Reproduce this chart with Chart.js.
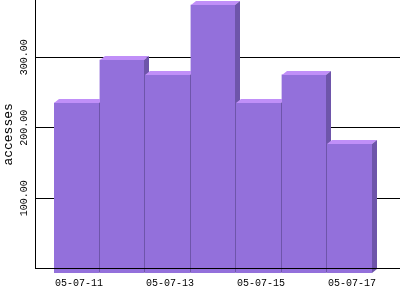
<!DOCTYPE html>
<html>
<head>
<meta charset="utf-8">
<script src="https://cdn.jsdelivr.net/npm/chart.js@4.4.0/dist/chart.umd.min.js"></script>
<style>
  html, body { margin: 0; padding: 0; background: #fff; }
</style>
</head>
<body>
<canvas id="accessChart" width="400" height="300"></canvas>
<script>
// data
const days = ['05-07-11', '05-07-12', '05-07-13', '05-07-14', '05-07-15', '05-07-16', '05-07-17'];
const accesses = [241, 302, 281, 380, 241, 281, 182];
const yTicks = [100, 200, 300];
const labelEvery = 2;

const FONT = 'Liberation Mono';
const FRONT = '#9370db', TOP = '#c08ff8', SIDE = '#6e55aa';
const DX = 5, DY = 4; // depth of the fake 3d

// draws each bar front/top/side in order so the next bar covers the previous side
const bars3d = {
  id: 'bars3d',
  beforeDatasetDraw(chart) {
    chart.ctx.save();
    chart.ctx.translate(-DX, DY);
  },
  afterDatasetDraw(chart, args) {
    const ctx = chart.ctx;
    args.meta.data.forEach(bar => {
      const p = bar.getProps(['x', 'y', 'base', 'width'], true);
      const l = Math.round(p.x - p.width / 2), r = Math.round(p.x + p.width / 2);
      const y = Math.round(p.y), base = Math.round(p.base);
      ctx.fillStyle = FRONT;
      ctx.fillRect(l, y, r - l, base - y);
      ctx.fillStyle = TOP;
      ctx.beginPath();
      ctx.moveTo(l, y); ctx.lineTo(r, y); ctx.lineTo(r + DX, y - DY); ctx.lineTo(l + DX, y - DY);
      ctx.closePath(); ctx.fill();
      ctx.fillStyle = SIDE;
      ctx.beginPath();
      ctx.moveTo(r, y); ctx.lineTo(r + DX, y - DY); ctx.lineTo(r + DX, base - DY); ctx.lineTo(r, base);
      ctx.closePath(); ctx.fill();
    });
    ctx.restore();
  }
};

new Chart(document.getElementById('accessChart'), {
  type: 'bar',
  data: {
    datasets: [{
      data: accesses.map((v, i) => ({ x: i, y: v })),
      backgroundColor: FRONT,
      barPercentage: 0.982,
      categoryPercentage: 1,
      clip: false
    }]
  },
  options: {
    responsive: false,
    animation: false,
    layout: { padding: 0 },
    plugins: { legend: { display: false }, tooltip: { enabled: false } },
    scales: {
      x: {
        type: 'linear',
        offset: false,
        min: -1.02,
        max: 7.0,
        afterBuildTicks: s => { s.ticks = days.map((d, i) => ({ value: i })).filter((t, i) => i % labelEvery === 0); },
        ticks: {
          callback: v => days[v],
          font: { family: FONT, size: 10 },
          color: '#000',
          padding: 1,
          labelOffset: -2.4,
          maxRotation: 0,
          autoSkip: false
        },
        grid: { display: false, offset: false },
        border: { display: true, color: '#000', width: 1, z: 1 },
        afterFit: s => { s.height = 31.2; }
      },
      y: {
        min: 0,
        max: 381,
        afterBuildTicks: s => { s.ticks = yTicks.map(v => ({ value: v })); },
        ticks: {
          callback: v => v.toFixed(2),
          minRotation: 90,
          maxRotation: 90,
          crossAlign: 'center',
          padding: -7.5,
          font: { family: FONT, size: 10 },
          color: '#000'
        },
        grid: { color: '#000', drawTicks: false, lineWidth: 1 },
        border: { color: '#000' },
        title: {
          display: true,
          text: 'accesses',
          font: { family: FONT, size: 13 },
          color: '#000',
          padding: { top: 0.5, bottom: 0 }
        },
        afterFit: s => { s.width = 35; }
      }
    }
  },
  plugins: [bars3d]
});
</script>
</body>
</html>
